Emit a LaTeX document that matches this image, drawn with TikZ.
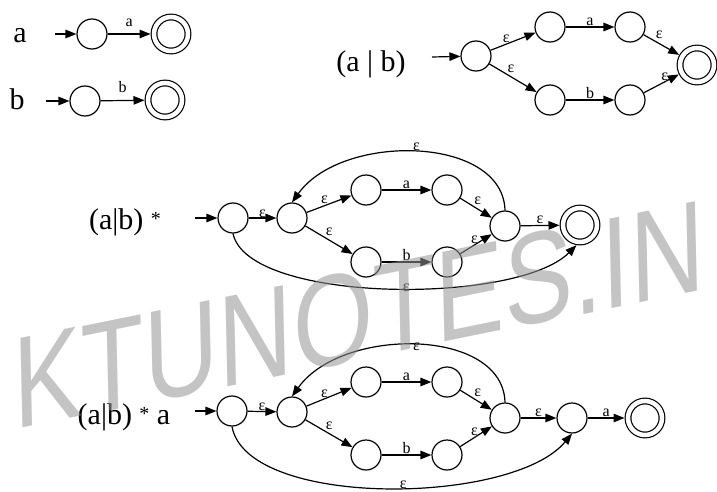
\documentclass[tikz,border=0pt]{standalone}
\usepackage{fontspec}
\setmainfont{Liberation Serif}
\newfontfamily\wmfont{Liberation Sans}
\usetikzlibrary{arrows.meta}
\definecolor{wmgray}{gray}{0.58}

\tikzset{
  st/.style={circle,draw,line width=1.2pt,minimum size=30pt,inner sep=0pt},
  fin/.style={st,double,double distance=4.5pt,minimum size=34pt,outer sep=3.5pt},
  tr/.style={-{Triangle[length=11pt,width=8.5pt]},line width=1.2pt},
  lbl/.style={font=\fontsize{16}{16}\selectfont,inner sep=1pt},
  re/.style={font=\fontsize{30}{30}\selectfont,inner sep=0pt},
  wm/.style={font=\wmfont\fontsize{128}{128}\selectfont,text=wmgray,text opacity=.55,inner sep=0pt}
}
\newcommand{\kst}{{\fontsize{20}{20}\selectfont\raisebox{4pt}{*}}}

\begin{document}
\begin{tikzpicture}[x=1pt,y=-1pt]
\useasboundingbox (0,0) rectangle (717,492);

% a
\node[re] (ra) at (20,36) {a};
\coordinate (ia) at (55,34);
\node[st] (a0) at (92,34) {};
\node[fin] (a1) at (171,34) {};
\draw[tr] (ia) -- (a0);
\draw[tr] (a0) -- node[lbl,above=6pt] (la) {a} (a1);

% b
\node[re] (rb) at (17,99) {b};
\coordinate (ib) at (46,101);
\node[st] (b0) at (85,101) {};
\node[fin] (b1) at (165,100) {};
\draw[tr] (ib) -- (b0);
\draw[tr] (b0) -- node[lbl,above=6pt] (lb) {b} (b1);

% (a|b)
\node[re] (rab) at (371,64) {(a | b)};
\coordinate (iu) at (432,57);
\node[st] (u0) at (476,56) {};
\node[st] (u1) at (550,27) {};
\node[st] (u2) at (630,27) {};
\node[st] (u3) at (550,100) {};
\node[st] (u4) at (630,100) {};
\node[fin] (u5) at (697,65) {};
\draw[tr] (iu) -- (u0);
\draw[tr] (u0) -- node[lbl,above,pos=.35] (lu1) {ε} (u1);
\draw[tr] (u0) -- node[lbl,above right,pos=.35] (lu2) {ε} (u3);
\draw[tr] (u1) -- node[lbl,above] (lu3) {a} (u2);
\draw[tr] (u3) -- node[lbl,above] (lu4) {b} (u4);
\draw[tr] (u2) -- node[lbl,above right,pos=.3] (lu5) {ε} (u5);
\draw[tr] (u4) -- node[lbl,above,pos=.6] (lu6) {ε} (u5);

% (a|b)*
\node[re] (rs) at (125,222) {(a|b) \kst};
\coordinate (is) at (195,218);
\node[st] (s0) at (233,218) {};
\node[st] (s1) at (292,218) {};
\node[st] (s2) at (366,190) {};
\node[st] (s3) at (447,190) {};
\node[st] (s4) at (366,262) {};
\node[st] (s5) at (447,262) {};
\node[st] (s6) at (505,226) {};
\node[fin] (s7) at (580,225) {};
\draw[tr] (is) -- (s0);
\draw[tr] (s0) -- node[lbl,above=-1pt] (ls1) {ε} (s1);
\draw[tr] (s1) -- node[lbl,above,pos=.4] (ls2) {ε} (s2);
\draw[tr] (s1) -- node[lbl,above right,pos=.4] (ls3) {ε} (s4);
\draw[tr] (s2) -- node[lbl,above] (ls4) {a} (s3);
\draw[tr] (s4) -- node[lbl,above] (ls5) {b} (s5);
\draw[tr] (s3) -- node[lbl,above right,pos=.4] (ls6) {ε} (s6);
\draw[tr] (s5) -- node[lbl,above,pos=.45] (ls7) {ε} (s6);
\draw[tr] (s6) -- node[lbl,above] (ls8) {ε} (s7);
\draw[tr] (s6.north) .. controls +(-2,-75) and +(50,-70) .. node[lbl,above] (ls9) {ε} (s1.north);
\draw[tr] (s0.south) .. controls +(15,70) and +(-60,60) .. node[lbl,pos=.54] (ls10) {ε} (s7.260);

% (a|b)*a
\node[re] (rt) at (124,417) {(a|b) \kst\ a};
\coordinate (it) at (195,411);
\node[st] (t0) at (232,411) {};
\node[st] (t1) at (292,412) {};
\node[st] (t2) at (366,382) {};
\node[st] (t3) at (447,382) {};
\node[st] (t4) at (366,455) {};
\node[st] (t5) at (447,455) {};
\node[st] (t6) at (505,418) {};
\node[st] (t7) at (572,418) {};
\node[fin] (t8) at (645,418) {};
\draw[tr] (it) -- (t0);
\draw[tr] (t0) -- node[lbl,above=-1pt] (lt1) {ε} (t1);
\draw[tr] (t1) -- node[lbl,above,pos=.4] (lt2) {ε} (t2);
\draw[tr] (t1) -- node[lbl,above right,pos=.4] (lt3) {ε} (t4);
\draw[tr] (t2) -- node[lbl,above] (lt4) {a} (t3);
\draw[tr] (t4) -- node[lbl,above] (lt5) {b} (t5);
\draw[tr] (t3) -- node[lbl,above right,pos=.4] (lt6) {ε} (t6);
\draw[tr] (t5) -- node[lbl,above,pos=.45] (lt7) {ε} (t6);
\draw[tr] (t6) -- node[lbl,above] (lt8) {ε} (t7);
\draw[tr] (t7) -- node[lbl,above] (lt9) {a} (t8);
\draw[tr] (t6.north) .. controls +(-2,-75) and +(50,-70) .. node[lbl,below=-4pt] (lt10) {ε} (t1.north);
\draw[tr] (t0.south) .. controls +(15,82) and +(-60,72) .. node[lbl,pos=.54,above=-3pt] (lt11) {ε} (t7.south);

% watermark
\node[wm,rotate=11.5,xslant=.18,xscale=.82,anchor=base west] (wmk) at (14,430) {KTUNOTES.IN};
\end{tikzpicture}
\end{document}
